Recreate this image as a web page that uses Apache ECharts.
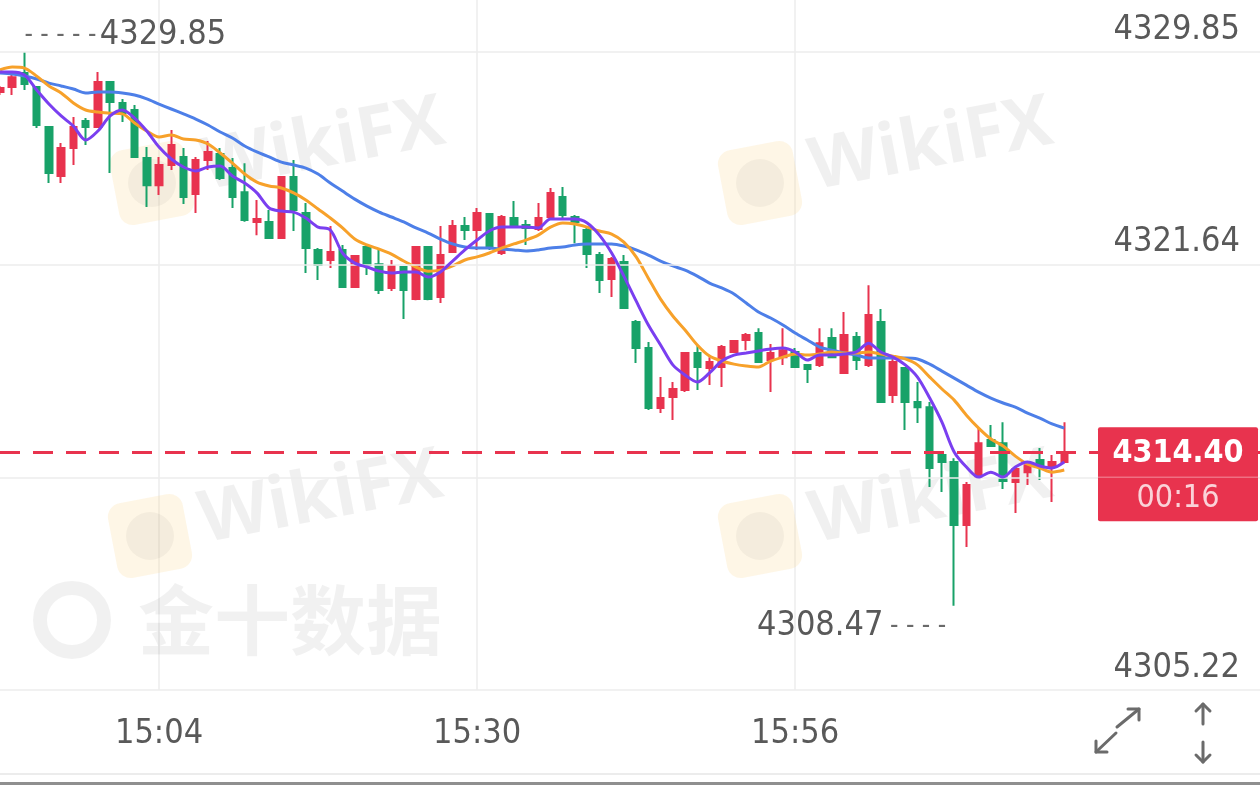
<!DOCTYPE html>
<html><head><meta charset="utf-8">
<script src="https://cdn.jsdelivr.net/npm/echarts@6/dist/echarts.min.js"></script>
<style>html,body{margin:0;padding:0;background:#fff;overflow:hidden}#c{width:1260px;height:785px}</style>
</head><body><div id="c"></div>
<script>
// ---------------- data ----------------
const startTime = '14:51';
const slotCount = 104;            // minutes shown on the x axis (incl. empty space on the right)
const xLabelTimes = ['15:04', '15:30', '15:56'];
const yTicks = [4305.22, 4313.43, 4321.64, 4329.85];
const lastPrice = 4314.40;
const countdown = '00:16';
// [open, close, low, high]
const ohlc = [
[4328.31,4328.46,4328.19,4328.54],[4328.50,4328.88,4328.19,4329.04],[4329.04,4328.61,4328.38,4329.85],
[4328.50,4327.03,4326.92,4328.54],[4326.95,4325.18,4324.79,4326.99],[4325.06,4326.14,4324.79,4326.34],
[4326.14,4326.95,4325.49,4327.34],[4327.19,4326.95,4326.26,4327.30],[4326.95,4328.69,4326.92,4329.08],
[4328.69,4327.92,4325.18,4328.73],[4327.88,4327.49,4327.15,4328.04],[4327.61,4325.80,4325.76,4327.80],
[4325.76,4324.71,4323.87,4326.18],[4324.71,4325.49,4324.33,4325.80],[4325.49,4326.26,4325.29,4326.84],
[4325.80,4324.25,4323.98,4326.14],[4324.37,4325.68,4323.63,4325.80],[4325.68,4325.99,4325.29,4326.41],
[4325.91,4324.99,4324.91,4326.14],[4325.37,4324.25,4323.83,4325.76],[4324.44,4323.36,4323.30,4325.56],
[4323.29,4323.40,4322.78,4324.14],[4323.29,4322.67,4322.63,4323.75],[4322.67,4325.02,4322.63,4325.06],
[4325.02,4323.75,4322.94,4325.68],[4323.63,4322.28,4321.32,4324.02],[4322.21,4321.63,4321.05,4322.28],
[4321.82,4322.13,4321.51,4323.13],[4322.21,4320.78,4320.74,4322.40],[4320.78,4321.97,4320.74,4322.01],
[4322.32,4321.63,4321.24,4322.36],[4321.66,4320.66,4320.51,4322.21],[4320.74,4321.59,4320.62,4321.82],
[4321.55,4320.66,4319.54,4321.59],[4320.31,4322.32,4320.27,4322.36],[4322.32,4320.31,4320.27,4322.36],
[4320.39,4322.01,4320.16,4323.13],[4322.13,4323.13,4322.09,4323.36],[4323.13,4322.98,4322.59,4323.48],
[4322.98,4323.63,4322.21,4323.83],[4323.60,4322.28,4322.21,4323.63],[4322.09,4323.48,4322.01,4323.56],
[4323.44,4323.09,4323.06,4324.10],[4323.17,4323.06,4322.40,4323.36],[4323.02,4323.44,4322.94,4324.02],
[4323.48,4324.41,4323.44,4324.60],[4324.25,4323.56,4323.44,4324.64],[4323.48,4323.29,4322.47,4323.56],
[4322.98,4322.05,4321.51,4323.09],[4322.01,4321.05,4320.55,4322.13],[4321.09,4321.86,4320.39,4321.94],
[4321.74,4319.97,4319.93,4322.01],[4319.43,4318.42,4317.84,4319.50],[4318.42,4316.11,4316.03,4318.65],
[4316.11,4316.49,4315.91,4317.30],[4316.53,4316.84,4315.64,4317.11],[4316.80,4318.23,4316.72,4318.27],
[4318.23,4317.69,4316.80,4318.54],[4317.65,4317.88,4316.99,4318.07],[4317.69,4318.46,4316.92,4318.54],
[4318.27,4318.69,4318.23,4318.73],[4318.73,4318.92,4318.34,4319.00],[4319.00,4317.88,4317.84,4319.19],
[4317.96,4318.23,4316.72,4318.58],[4318.07,4318.34,4317.77,4319.19],[4318.27,4317.69,4317.65,4318.42],
[4317.77,4317.61,4317.07,4317.80],[4317.77,4318.61,4317.69,4319.19],[4318.81,4318.07,4318.04,4319.19],
[4317.46,4318.92,4317.42,4319.81],[4318.85,4317.96,4317.57,4319.04],[4317.77,4319.70,4317.69,4320.85],
[4319.43,4316.34,4316.30,4319.93],[4316.61,4317.88,4316.30,4318.07],[4317.65,4316.34,4315.26,4317.69],
[4316.34,4316.14,4315.53,4317.11],[4316.14,4313.79,4313.06,4316.34],[4314.29,4314.02,4312.86,4314.37],
[4314.02,4311.59,4308.47,4314.17],[4311.59,4313.13,4310.74,4313.25],[4313.44,4314.75,4313.40,4315.33],
[4314.87,4314.64,4314.60,4315.45],[4314.75,4313.29,4312.98,4315.56],[4313.25,4313.75,4312.05,4313.83],
[4313.63,4313.90,4313.13,4313.98],[4314.10,4313.87,4313.33,4314.56],[4313.83,4314.02,4312.48,4314.29],
[4314.02,4314.40,4313.98,4315.56]
];
const maPurple = [4329.08,4329.08,4328.96,4328.38,4327.84,4327.38,4326.99,4326.45,4326.80,4327.38,
4327.61,4327.30,4326.80,4326.18,4325.72,4325.41,4325.26,4325.41,4325.45,4325.06,
4324.79,4324.41,4323.83,4323.71,4323.67,4323.44,4323.09,4322.98,4322.09,4321.70,
4321.55,4321.39,4321.32,4321.36,4321.36,4321.16,4321.36,4321.78,4322.21,4322.59,
4322.94,4323.09,4323.09,4323.09,4323.06,4323.40,4323.40,4323.40,4323.25,4322.78,
4322.09,4321.20,4320.24,4319.31,4318.54,4317.77,4317.38,4317.11,4317.46,4317.92,
4318.15,4318.23,4318.31,4318.38,4318.42,4318.27,4317.96,4318.15,4318.15,4318.19,
4318.27,4318.61,4318.27,4318.07,4317.77,4317.30,4316.49,4315.56,4314.41,4313.83,
4313.44,4313.63,4313.44,4313.83,4314.02,4313.87,4313.79,4314.02];
const maOrange = [4329.16,4329.27,4329.23,4328.92,4328.54,4328.27,4327.88,4327.61,4327.53,4327.49,
4327.46,4327.11,4326.80,4326.57,4326.65,4326.49,4326.45,4326.30,4325.95,4325.56,
4325.14,4324.83,4324.68,4324.60,4324.41,4324.14,4323.79,4323.44,4323.06,4322.63,
4322.40,4322.24,4322.05,4321.78,4321.55,4321.39,4321.43,4321.59,4321.82,4321.94,
4322.09,4322.28,4322.44,4322.59,4322.78,4323.09,4323.25,4323.21,4323.09,4322.94,
4322.82,4322.51,4321.94,4321.12,4320.31,4319.66,4319.12,4318.54,4318.11,4317.92,
4317.80,4317.73,4317.69,4317.92,4318.07,4318.19,4318.15,4318.19,4318.27,4318.23,
4318.23,4318.27,4318.19,4318.11,4318.00,4317.77,4317.30,4316.84,4316.41,4315.83,
4315.33,4314.91,4314.64,4314.25,4313.94,4313.79,4313.63,4313.71];
const maBlue = [4329.04,4329.00,4328.92,4328.81,4328.65,4328.54,4328.42,4328.27,4328.31,4328.31,
4328.27,4328.19,4328.04,4327.84,4327.65,4327.46,4327.26,4327.03,4326.76,4326.53,
4326.22,4325.99,4325.80,4325.60,4325.49,4325.37,4325.14,4324.79,4324.48,4324.17,
4323.90,4323.67,4323.48,4323.29,4323.06,4322.86,4322.63,4322.44,4322.32,4322.28,
4322.28,4322.24,4322.21,4322.17,4322.21,4322.28,4322.32,4322.40,4322.44,4322.44,
4322.44,4322.36,4322.21,4322.01,4321.78,4321.59,4321.43,4321.20,4320.93,4320.74,
4320.51,4320.16,4319.81,4319.58,4319.31,4319.00,4318.73,4318.46,4318.34,4318.23,
4318.15,4318.04,4318.04,4318.04,4318.04,4318.00,4317.80,4317.53,4317.26,4316.99,
4316.72,4316.49,4316.30,4316.14,4315.91,4315.72,4315.49,4315.33];

// ---------------- style ----------------
const RED = '#e8334e', GREEN = '#18a269';
const FONT = "'DejaVu Sans Condensed','Liberation Sans Narrow',sans-serif";
const FS = 34;
const TXT = '#595959', GRID = '#ededed';

const cats = [];
{ const [h, m] = startTime.split(':').map(Number);
  for (let i = 0; i < slotCount; i++) { const t = h * 60 + m + i;
    cats.push(String(Math.floor(t / 60)).padStart(2, '0') + ':' + String(t % 60).padStart(2, '0')); } }

const yMin = yTicks[0], yTopTick = yTicks[yTicks.length - 1];
const yMax = yTopTick + (yTopTick - yMin) * 52 / 638;   // headroom above the top tick

const chart = echarts.init(document.getElementById('c'), null, {renderer: 'canvas'});
const showX = (i, v) => xLabelTimes.indexOf(v) >= 0;

const gridLines = yTicks.map(v => ({
  yAxis: v,
  lineStyle: {color: GRID, width: 1.5, type: 'solid'},
  label: {show: Math.abs(v - lastPrice) > 2, position: 'insideEndTop', distance: [20, 5],
          formatter: v.toFixed(2), color: TXT, fontSize: FS, fontFamily: FONT}
}));

chart.setOption({
  animation: false,
  backgroundColor: '#ffffff',
  grid: {left: -1.25, right: 0, top: 0, bottom: 95, containLabel: false},
  xAxis: {
    type: 'category', data: cats, boundaryGap: false,
    axisLine: {show: false}, axisTick: {show: false},
    axisLabel: {interval: showX, color: TXT, fontSize: FS, fontFamily: FONT, margin: 27},
    splitLine: {show: true, interval: showX, lineStyle: {color: GRID, width: 1.5}}
  },
  yAxis: {
    type: 'value', min: yMin, max: yMax, scale: true,
    axisLine: {show: false}, axisTick: {show: false}, axisLabel: {show: false}, splitLine: {show: false}
  },
  series: [
    {
      type: 'candlestick', data: ohlc, barWidth: 7, z: 2,
      itemStyle: {color: RED, color0: GREEN, borderColor: RED, borderColor0: GREEN, borderWidth: 2},
      markLine: {
        silent: true, symbol: ['none', 'none'], animation: false,
        data: gridLines.concat([{
          yAxis: lastPrice,
          lineStyle: {color: RED, width: 3, type: [20, 13]},
          label: {show: false}
        }])
      },
      markPoint: {
        silent: true, symbol: 'circle', symbolSize: 0, animation: false,
        data: [
          {type: 'max', valueDim: 'highest',
           label: {show: true, position: 'right', distance: 0, offset: [0, -17],
             formatter: p => '{d|- - - - -} {v|' + Number(p.value).toFixed(2) + '}',
             rich: {d: {fontSize: 26, color: '#6a6a6a', fontFamily: FONT},
                    v: {fontSize: FS, color: TXT, fontFamily: FONT}}}},
          {type: 'min', valueDim: 'lowest',
           label: {show: true, position: 'left', distance: 8, offset: [0, 20],
             formatter: p => '{v|' + Number(p.value).toFixed(2) + '}  {d|- - - -}',
             rich: {d: {fontSize: 26, color: '#6a6a6a', fontFamily: FONT},
                    v: {fontSize: FS, color: TXT, fontFamily: FONT}}}}
        ]
      }
    },
    {type: 'line', data: maBlue, showSymbol: false, smooth: 0.3, z: 3, silent: true,
     lineStyle: {color: '#4d7fe8', width: 3}},
    {type: 'line', data: maOrange, showSymbol: false, smooth: 0.3, z: 4, silent: true,
     lineStyle: {color: '#f7a12a', width: 3}},
    {type: 'line', data: maPurple, showSymbol: false, smooth: 0.3, z: 5, silent: true,
     lineStyle: {color: '#7a3ff0', width: 3}}
  ]
});

// ---------------- decorations (watermarks, price tag, icons) ----------------
const py = chart.convertToPixel({yAxisIndex: 0}, lastPrice);
const gy = chart.convertToPixel({yAxisIndex: 0}, yTicks[1]);
const wm = [];
function wiki(x, y, id) {
  wm.push({type: 'group', id: id, x: x, y: y, rotation: 0.19, z: -10, silent: true, children: [
    {type: 'rect', shape: {x: -38, y: -38, width: 76, height: 76, r: 14}, style: {fill: 'rgba(250,214,140,0.22)'}},
    {type: 'circle', shape: {cx: 0, cy: 0, r: 24}, style: {fill: 'rgba(0,0,0,0.04)'}},
    {type: 'text', x: 52, y: -4, style: {text: 'WikiFX', font: 'bold 72px "Open Sans", sans-serif',
      fill: 'rgba(0,0,0,0.06)', verticalAlign: 'middle', textAlign: 'left'}}
  ]});
}
wiki(152, 183, 'w1'); wiki(760, 183, 'w2'); wiki(150, 536, 'w3'); wiki(760, 536, 'w4');
wm.push({type: 'group', id: 'jin', x: 0, y: 0, z: -10, silent: true, children: [
  {type: 'circle', shape: {cx: 72, cy: 620, r: 32}, style: {fill: 'none', stroke: 'rgba(0,0,0,0.055)', lineWidth: 14}},
  {type: 'text', x: 138, y: 620, style: {text: '金十数据', font: 'bold 76px "Noto Sans CJK SC", sans-serif',
    fill: 'rgba(0,0,0,0.055)', verticalAlign: 'middle', textAlign: 'left'}}
]});
const tag = {type: 'group', id: 'tag', x: 1098, y: py - 25, z: 100, silent: true, children: [
  {type: 'rect', shape: {x: 0, y: 0, width: 160, height: 94, r: 2}, style: {fill: RED}, z: 100},
  {type: 'line', shape: {x1: 0, y1: gy - py + 25, x2: 160, y2: gy - py + 25}, style: {stroke: 'rgba(255,255,255,0.3)', lineWidth: 1.5}, z: 101},
  {type: 'text', x: 80, y: 26, style: {text: lastPrice.toFixed(2), font: 'bold 32px ' + FONT, fill: '#ffffff',
    textAlign: 'center', verticalAlign: 'middle'}, z: 102},
  {type: 'text', x: 80, y: 71, style: {text: countdown, font: '32px ' + FONT, fill: 'rgba(255,255,255,0.78)',
    textAlign: 'center', verticalAlign: 'middle'}, z: 102}
]};
const ic = {stroke: '#6b6b6b', lineWidth: 3, lineCap: 'round', lineJoin: 'round', fill: 'none'};
const icons = {type: 'group', id: 'icons', z: 50, silent: true, children: [
  {type: 'polyline', shape: {points: [[1117, 727], [1139, 709]]}, style: ic},
  {type: 'polyline', shape: {points: [[1128, 709], [1139, 709], [1139, 720]]}, style: ic},
  {type: 'polyline', shape: {points: [[1116, 733], [1096, 752]]}, style: ic},
  {type: 'polyline', shape: {points: [[1096, 741], [1096, 752], [1107, 752]]}, style: ic},
  {type: 'polyline', shape: {points: [[1203, 704], [1203, 724]]}, style: ic},
  {type: 'polyline', shape: {points: [[1196, 711], [1203, 704], [1210, 711]]}, style: ic},
  {type: 'polyline', shape: {points: [[1203, 742], [1203, 762]]}, style: ic},
  {type: 'polyline', shape: {points: [[1196, 755], [1203, 762], [1210, 755]]}, style: ic},
  {type: 'line', shape: {x1: 0, y1: 774, x2: 1260, y2: 774}, style: {stroke: '#ececec', lineWidth: 2}},
  {type: 'rect', shape: {x: 0, y: 782, width: 1260, height: 3}, style: {fill: '#8f8f8f'}}
]};
chart.setOption({graphic: {elements: wm.concat([tag, icons])}});
</script></body></html>
